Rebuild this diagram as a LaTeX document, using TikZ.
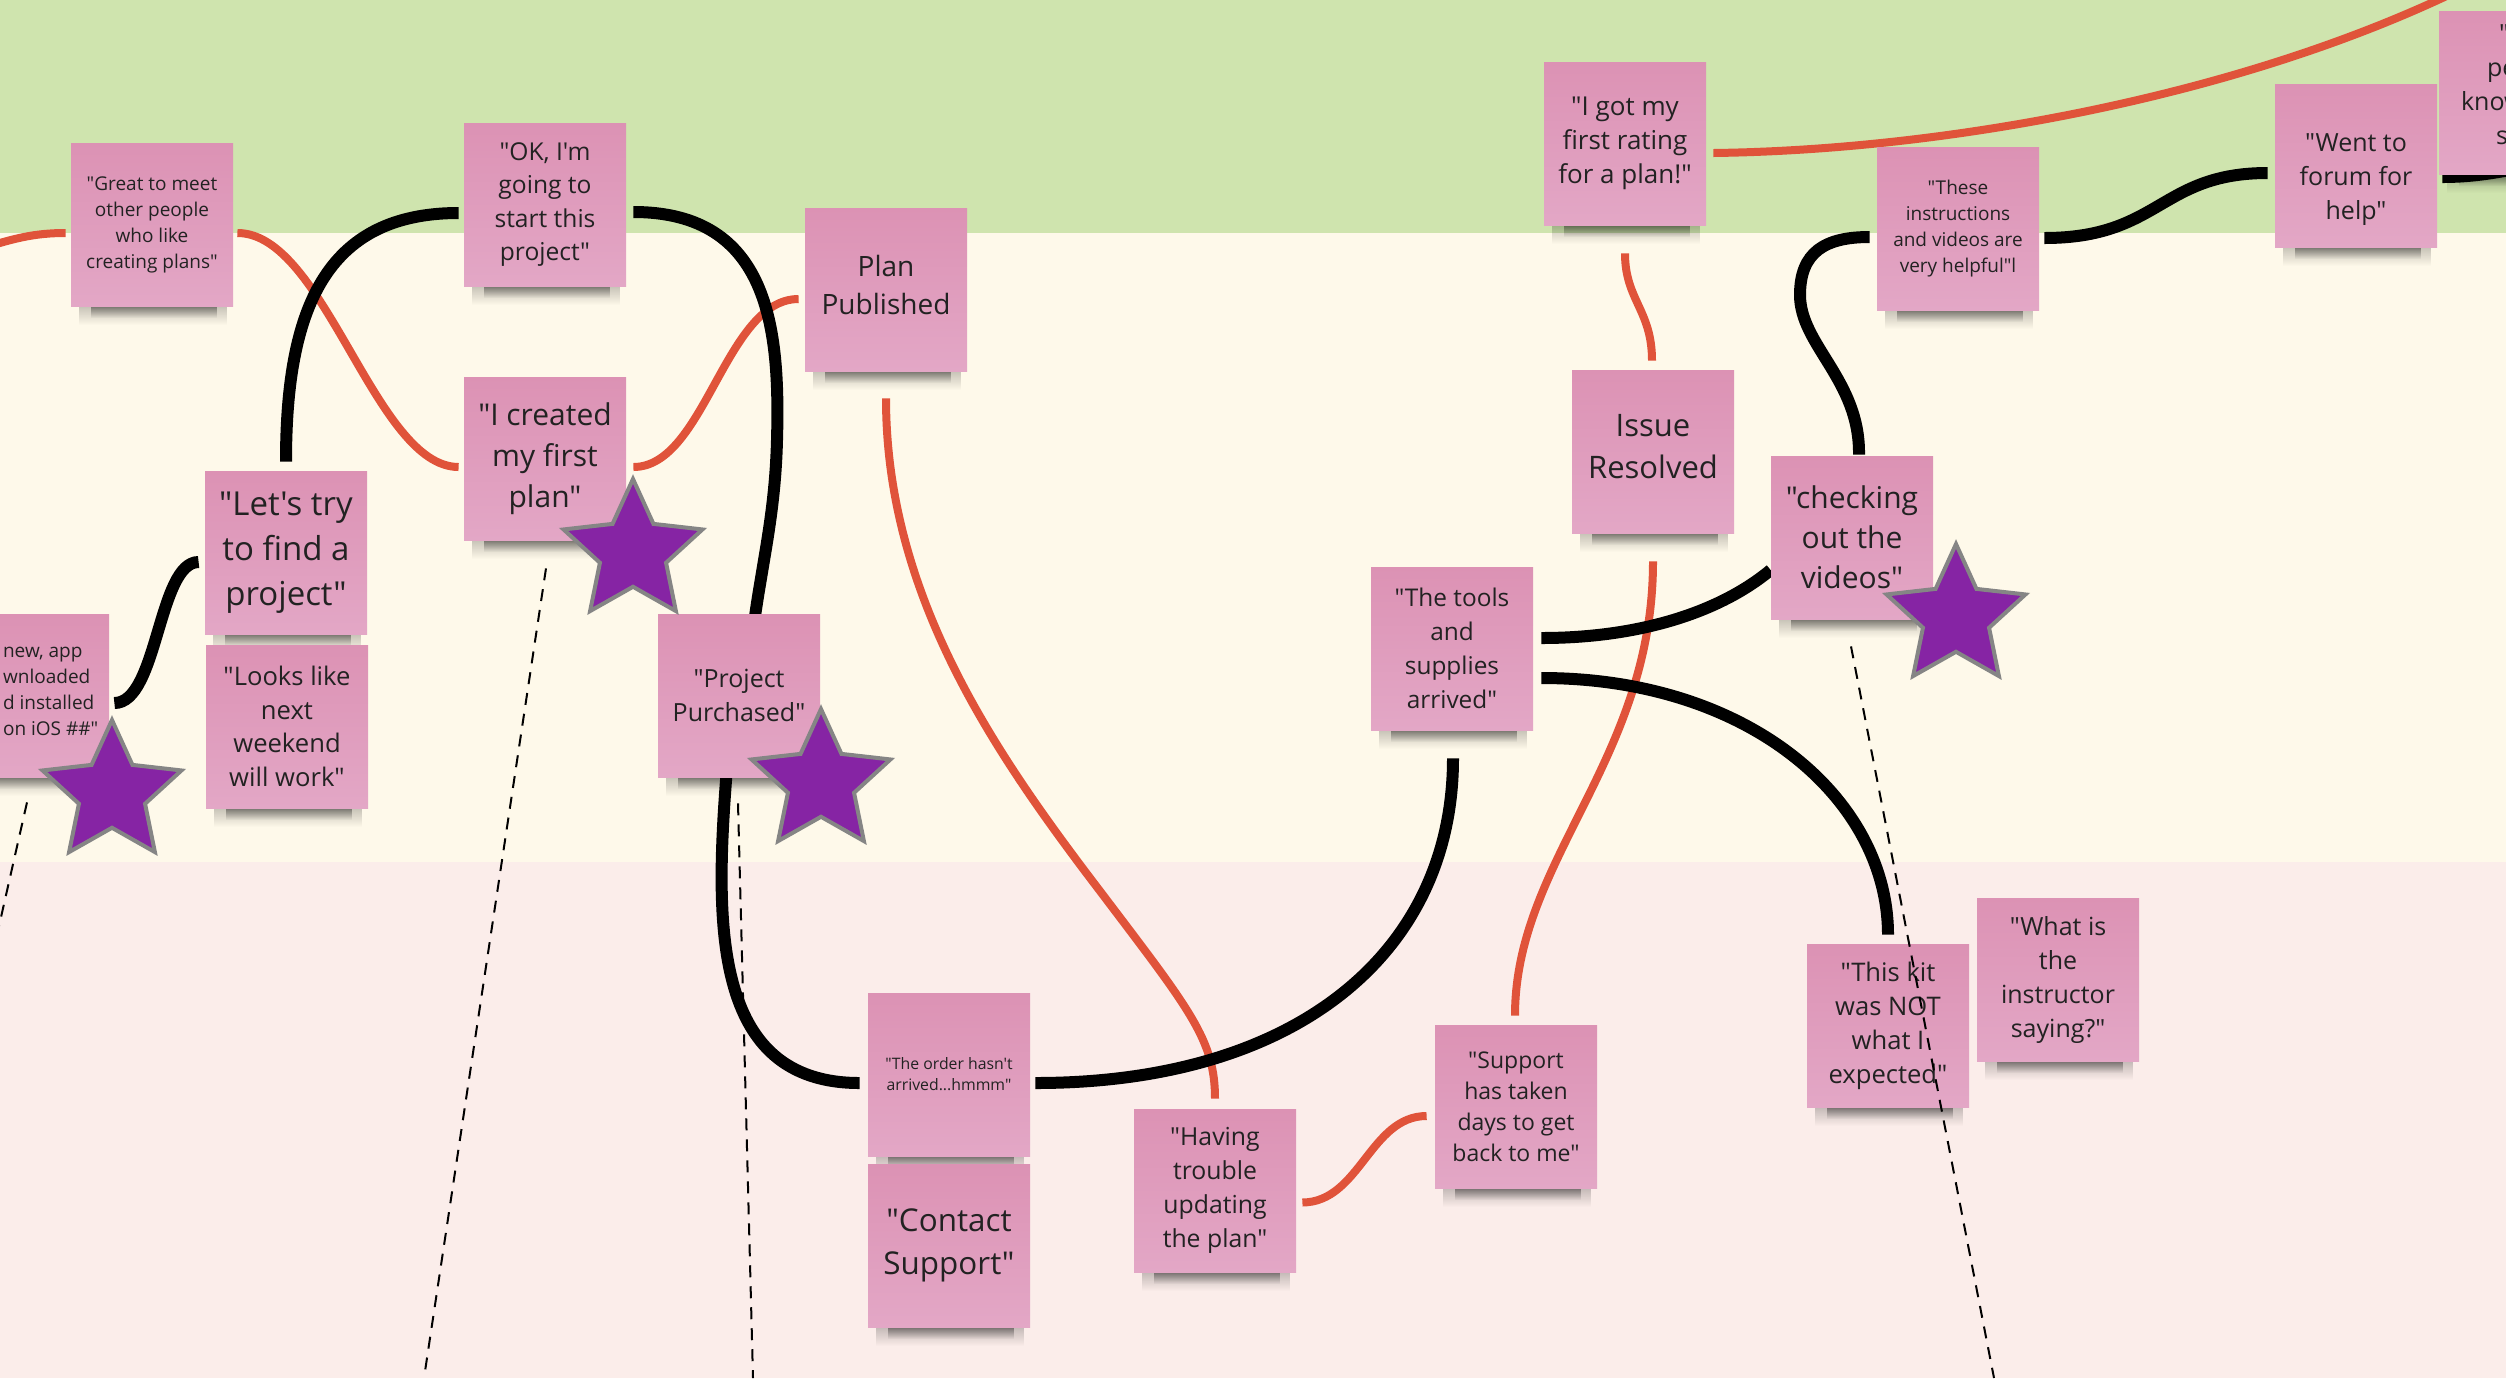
\documentclass[tikz,border=0pt]{standalone}
\usepackage{fontspec}
\setmainfont{Open Sans}[Ligatures=TeXOff]
\usetikzlibrary{shapes.geometric,fadings}

\definecolor{bggreen}{HTML}{CFE4AE}
\definecolor{bgcream}{HTML}{FEF9EA}
\definecolor{bgpink}{HTML}{FBEDEA}
\definecolor{notetop}{HTML}{DC92B4}
\definecolor{notebot}{HTML}{E3A7C6}
\definecolor{lineorange}{HTML}{E0533A}
\definecolor{starpurple}{HTML}{8624A4}
\definecolor{stargray}{HTML}{858585}
\definecolor{inkdark}{HTML}{222222}

\pgfdeclarelayer{bg}\pgfdeclarelayer{lines}\pgfdeclarelayer{front}
\pgfsetlayers{bg,lines,main,front}

\tikzset{
  stickynote/.style={rectangle, minimum width=81pt, minimum height=81.5pt, inner sep=0pt,
    top color=notetop, bottom color=notebot, text=inkdark, align=center},
  blk/.style={line width=6pt, black},
  org/.style={line width=4pt, lineorange},
  dsh/.style={line width=1pt, black, dash pattern=on 6pt off 4.5pt},
  starmark/.style={star, star points=5, star point ratio=2.1, minimum size=73pt, inner sep=0pt,
    fill=starpurple, draw=stargray, line width=2pt},
}

% name, x, y (top-left, px), font, text
\newcommand\sticky[5]{%
  \fill[black, opacity=0.22, path fading=south] (#2+8,#3+163) rectangle (#2+156,#3+182);
  \fill[black, opacity=0.4, path fading=south] (#2+20,#3+163) rectangle (#2+146,#3+175);
  \node[stickynote, font=#4] (#1) at (#2+81,#3+81.5) {#5};
}

\begin{document}
\begin{tikzpicture}[x=0.5pt,y=-0.5pt]
\useasboundingbox (0,0) rectangle (2506,1378);

\begin{pgfonlayer}{bg}
\fill[bggreen] (0,0) rectangle (2506,233);
\fill[bgcream] (0,233) rectangle (2506,862);
\fill[bgpink] (0,862) rectangle (2506,1378);
\end{pgfonlayer}

% ---- sticky notes ----
\sticky{leftnote}{-53}{614}{\fontsize{9.5}{13}\selectfont}{}
\node[anchor=west, align=left, text=inkdark, font=\fontsize{9.5}{13}\selectfont] (leftnotetext) at (-4,691) {new, app\\wnloaded\\d installed\\on iOS \#\#"};
\sticky{great}{71}{143}{\fontsize{9.5}{13}\selectfont}{"Great to meet\\other people\\who like\\creating plans"}
\sticky{ok}{464}{123}{\fontsize{12.3}{16.8}\selectfont}{"OK, I'm\\going to\\start this\\project"}
\sticky{created}{464}{377}{\fontsize{15}{20.5}\selectfont}{"I created\\my first\\plan"}
\sticky{letstry}{205}{471}{\fontsize{16.5}{22.5}\selectfont}{"Let's try\\to find a\\project"}
\sticky{looks}{206}{645}{\fontsize{12.8}{16.8}\selectfont}{"Looks like\\next\\weekend\\will work"}
\sticky{planpub}{805}{208}{\fontsize{14}{19}\selectfont}{Plan\\Published\rule[-5pt]{0pt}{5pt}}
\sticky{proj}{658}{614}{\fontsize{12.5}{17}\selectfont}{"Project\\Purchased"}
\sticky{order}{868}{993}{\fontsize{7.9}{10.5}\selectfont}{"The order hasn't\\arrived...hmmm"}
\sticky{contact}{868}{1164}{\fontsize{15.7}{21.5}\selectfont}{"Contact\\Support"}
\sticky{having}{1134}{1109}{\fontsize{12.4}{17}\selectfont}{"Having\\trouble\\updating\\the plan"}
\sticky{support}{1435}{1025}{\fontsize{11.5}{15.5}\selectfont}{"Support\\has taken\\days to get\\back to me"}
\sticky{tools}{1371}{567}{\fontsize{12.2}{17}\selectfont}{"The tools\\and\\supplies\\arrived"}
\sticky{issue}{1572}{370}{\fontsize{15.5}{21}\selectfont}{Issue\\Resolved\rule[-5pt]{0pt}{5pt}}
\sticky{igot}{1544}{62}{\fontsize{13}{17}\selectfont}{"I got my\\first rating\\for a plan!"}
\sticky{these}{1877}{147}{\fontsize{9.5}{13}\selectfont}{"These\\instructions\\and videos are\\very helpful"l}
\sticky{checking}{1771}{456}{\fontsize{15}{20}\selectfont}{"checking\\out the\\videos"}
\sticky{thiskit}{1807}{944}{\fontsize{12.8}{17}\selectfont}{"This kit\\was NOT\\what I\\expected"}
\sticky{whatis}{1977}{898}{\fontsize{12.5}{17}\selectfont}{"What is\\the\\instructor\\saying?"}
\sticky{forum}{2275}{84}{\fontsize{12.5}{17}\selectfont}{\rule{0pt}{23pt}"Went to\\forum for\\help"}
\sticky{rightnote}{2439}{11}{\fontsize{12.5}{17}\selectfont}{}
\node[anchor=north west, align=left, text=inkdark, font=\fontsize{12.5}{17}\selectfont] (rightnotetext) at (2454,18) {\hspace*{19pt}"T\\\hspace*{13pt}pe\\know\\\hspace*{17.5pt}st};

% ---- stars ----
\node[starmark] (star1) at (112,793) {};
\node[starmark] (star2) at (633,552) {};
\node[starmark] (star3) at (821,782) {};
\node[starmark] (star4) at (1956,617) {};

% ---- connectors ----
\begin{pgfonlayer}{lines}
\coordinate (o1s) at (-20,249);
\draw[org] (o1s) .. controls (15,238) and (35,233) .. ([shift={(-5,8.5)}]great.west);
\draw[org] ([shift={(4,8.5)}]great.east) .. controls (325,233) and (375,467) .. ([shift={(-5,8.5)}]created.west);
\draw[org] ([shift={(7,8.5)}]created.east) .. controls (705,467) and (725,299) .. ([shift={(-6,9.5)}]planpub.west);
\draw[org] ([shift={(0,27)}]planpub.south) .. controls (886,600) and (1000,760) .. (1103,895) .. controls (1190,1010) and (1215,1040) .. ([shift={(0,-10)}]having.north);
\draw[org] ([shift={(0,28)}]igot.south) .. controls (1625,300) and (1652,310) .. ([shift={(-1,-9)}]issue.north);
\draw[org] ([shift={(0,28)}]issue.south) .. controls (1653,760) and (1515,860) .. ([shift={(-1,-9)}]support.north);
\draw[org] ([shift={(6,12)}]having.east) .. controls (1360,1202) and (1370,1116) .. ([shift={(-8,9.5)}]support.west);
\coordinate (o8e) at (2455,-8);
\draw[org] ([shift={(7,9.5)}]igot.east) .. controls (1950,150) and (2240,95) .. (o8e);

\draw[blk] ([shift={(5,7.5)}]leftnote.east) .. controls (158,703) and (158,562) .. ([shift={(-6,9.5)}]letstry.west);
\draw[blk] ([shift={(0,-9)}]letstry.north) .. controls (286,310) and (325,213) .. ([shift={(-5,8.5)}]ok.west);
\draw[blk] ([shift={(7,7.5)}]ok.east) .. controls (770,212) and (780,330) .. (777,440) .. controls (775,520) and (760,570) .. ([shift={(13,26)}]proj.north);
\draw[blk] ([shift={(-12,-10)}]proj.south) .. controls (715,920) and (710,1083) .. ([shift={(-8,8.5)}]order.west);
\draw[blk] ([shift={(5,8.5)}]order.east) .. controls (1300,1083) and (1453,950) .. ([shift={(1,28)}]tools.south);
\draw[blk] ([shift={(8,-10.5)}]tools.east) .. controls (1640,638) and (1720,612) .. ([shift={(0,32.5)}]checking.west);
\draw[blk] ([shift={(8,29.5)}]tools.east) .. controls (1750,678) and (1888,800) .. ([shift={(0,-9)}]thiskit.north);
\draw[blk] ([shift={(7,-1)}]checking.north) .. controls (1860,380) and (1800,345) .. (1800,295) .. controls (1800,252) and (1825,237) .. ([shift={(-7,8.5)}]these.west);
\draw[blk] ([shift={(5,9.5)}]these.east) .. controls (2160,238) and (2160,173) .. ([shift={(-7,7.5)}]forum.west);
\coordinate (b10e) at (2530,166);
\draw[blk] ([shift={(5,11.5)}]forum.east) .. controls (2475,177) and (2500,172) .. (b10e);
\end{pgfonlayer}

% ---- dashed guides ----
\begin{pgfonlayer}{front}
\coordinate (d1e) at (-20,1010);
\coordinate (d2e) at (424,1378);
\coordinate (d3e) at (753,1378);
\coordinate (d4e) at (1994,1378);
\draw[dsh] ([shift={(-1,25)}]leftnote.south) -- (d1e);
\draw[dsh] ([shift={(1,28)}]created.south) -- (d2e);
\draw[dsh] ([shift={(-1,26)}]proj.south) -- (d3e);
\draw[dsh] ([shift={(-1,27)}]checking.south) -- (d4e);
\end{pgfonlayer}
\end{tikzpicture}
\end{document}
